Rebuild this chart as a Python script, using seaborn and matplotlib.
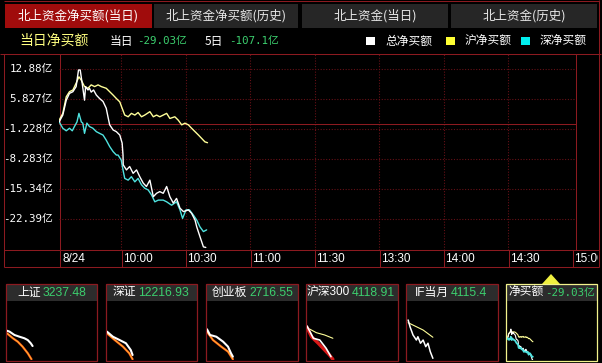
import matplotlib
matplotlib.use("Agg")
import matplotlib.pyplot as plt
import matplotlib.transforms as mtransforms
from matplotlib.patches import Rectangle, Polygon
import seaborn as sns

# ---------------- data ----------------
tab_labels = ["北上资金净买额(当日)", "北上资金净买额(历史)", "北上资金(当日)", "北上资金(历史)"]
time_labels = ["8/24", "10:00", "10:30", "11:00", "11:30", "13:30", "14:00", "14:30", "15:00"]
time_ticks = [0, 30, 60, 90, 120, 150, 180, 210, 240]
y_ticks = [12.88, 5.827, -1.228, -8.283, -15.34, -22.39]
y_tick_labels = ["12.88亿", "5.827亿", "-1.228亿", "-8.283亿", "-15.34亿", "-22.39亿"]
legend_labels = ["总净买额", "沪净买额", "深净买额"]
title_text = "当日净买额"
today_label, today_net = "当日", "-29.03亿"
five_label, five_day_net = "5日", "-107.1亿"

# total net buy (亿) vs minutes since 9:30
total_min = [1, 2.7, 4.3, 5.8, 7.4, 8.9, 10.0, 10.8, 11.7, 12.8, 13.3, 14.4, 15.1, 15.9, 17.0,
             18.3, 19.8, 21.4, 22.9, 23.7, 24.5, 26.1, 27.6, 29.2, 30.3, 30.7, 30.8, 32.3, 33.8,
             35.4, 37.0, 38.5, 40.1, 41.6, 43.2, 44.8, 46.3, 47.8, 49.4, 51.0, 52.5, 54.1, 55.6,
             57.2, 58.8, 61.1, 62.6, 64.2, 65.0, 66.5, 68.1, 69.2]
total_val = [0.5, 2.1, 5.6, 7.2, 7.6, 8.8, 12.7, 12.7, 9.6, 5.6, 8.8, 8.0, 8.4, 7.5, 8.0,
             6.8, 6.0, 5.3, 3.7, 1.7, -0.2, -1.4, -1.8, -2.6, -4.5, -7.3, -9.6, -10.8, -10.0,
             -11.6, -10.8, -12.4, -13.9, -14.7, -13.2, -17.1, -16.3, -15.9, -16.3, -14.7, -17.1, -18.6, -17.5,
             -19.8, -20.6, -20.2, -21.0, -22.6, -24.2, -26.5, -28.9, -29.03]
sh_min = [1, 2.7, 4.3, 5.8, 7.4, 8.9, 10.2, 11.3, 12.8, 14.4, 15.9, 17.5, 19.1, 20.6, 22.9,
          24.5, 26.1, 27.6, 29.2, 30.0, 31.5, 33.1, 34.6, 36.2, 37.7, 39.3, 40.8, 43.2, 44.8,
          46.3, 47.8, 49.4, 51.0, 52.5, 54.8, 56.4, 58.0, 59.5, 61.1, 62.6, 64.2, 65.8, 67.3, 68.8, 70.0]
sh_val = [0.9, 2.5, 6.4, 7.6, 8.0, 9.6, 11.1, 10.3, 8.8, 8.4, 9.2, 8.8, 9.2, 8.8, 8.4,
          7.6, 6.8, 6.0, 5.2, 4.1, 2.1, 1.7, 2.5, 2.1, 2.7, 1.7, 2.1, 2.9, 1.7,
          2.1, 1.7, 2.1, 2.5, 1.3, 1.7, 0.9, -0.2, 0.2, -0.2, -1.0, -1.8, -2.6, -3.4, -4.2, -4.4]
sz_min = [1, 2.7, 4.3, 5.8, 7.1, 8.1, 9.3, 10.2, 11.3, 12.0, 12.8, 13.9, 15.1, 16.7, 18.3,
          19.8, 21.4, 22.9, 24.5, 26.1, 27.6, 28.4, 29.9, 30.7, 31.5, 33.1, 34.6, 36.2, 37.7,
          39.3, 40.8, 42.4, 44.0, 45.5, 47.1, 49.4, 51.0, 53.3, 55.6, 57.2, 58.4, 60.0, 61.6,
          63.4, 65.0, 66.5, 68.1, 69.6]
sz_val = [0.5, -1.0, -1.6, -1.0, -1.6, -0.6, 0.5, 2.5, 0.5, 0.2, -2.2, 0.2, -0.6, -1.0, -1.8,
          -2.2, -2.6, -3.8, -5.3, -6.5, -7.3, -7.3, -8.5, -10.8, -12.8, -13.2, -12.4, -13.6, -12.8,
          -14.3, -15.1, -15.5, -16.7, -18.3, -17.9, -17.9, -18.3, -19.1, -18.3, -20.2, -22.2, -20.2, -20.2,
          -21.4, -22.6, -24.2, -25.3, -24.9]

# bottom mini panels
panel_names = ["上证", "深证", "创业板", "沪深300", "IF当月", "净买额"]
panel_values = ["3237.48", "12216.93", "2716.55", "4118.91", "4115.4", "-29.03亿"]
# mini index charts (% change vs minutes)
m1_w_min = [0, 7, 20, 33, 47, 56, 64, 69]
m1_w_val = [0.02, -0.07, -0.39, -0.55, -0.71, -0.88, -1.19, -1.46]
m1_r_min = [0, 16, 29, 42, 56, 66]
m1_r_val = [-0.23, -0.71, -1.04, -1.52, -2.16, -2.74]
m2_w_min = [0, 16, 34, 51, 64, 69]
m2_w_val = [-0.07, -0.56, -0.88, -1.19, -1.84, -2.33]
m2_r_min = [0, 21, 43, 60, 69]
m2_r_val = [-0.23, -0.88, -1.52, -2.16, -2.74]
m3_w_min = [0, 8, 25, 43, 56, 64, 69]
m3_w_val = [0.16, -0.39, -0.56, -1.04, -1.52, -2.16, -2.49]
m3_r_min = [0, 16, 38, 56, 69]
m3_r_val = [-0.07, -0.88, -1.52, -2.0, -2.74]
m4_r_min = [0, 12, 30, 47, 60, 69]
m4_r_val = [0.35, -0.56, -1.19, -1.84, -2.33, -2.74]
m4_w_min = [0, 17, 34, 51, 64]
m4_w_val = [0.48, -0.71, -0.88, -1.68, -2.49]
m4_y_min = [3, 25, 47, 69]
m4_y_val = [0.26, -0.17, -0.39, -0.71]
m5_w_min = [3, 8, 16, 25, 29, 36, 43, 50, 56, 62, 69]
m5_w_val = [1.06, 0.41, -0.39, -0.88, -0.56, -1.19, -0.88, -1.52, -1.19, -2.0, -2.65]
m5_y_min = [3, 21, 43, 69]
m5_y_val = [0.8, 0.48, 0.09, -0.61]

# ---------------- style ----------------
sns.set_theme(style="dark")
plt.rcParams['font.family'] = ['Liberation Sans', 'Noto Sans CJK SC', 'DejaVu Sans']
MONO = ['DejaVu Sans Mono', 'Noto Sans CJK SC']
CJK = ['Noto Sans CJK SC', 'DejaVu Sans']
RED = '#8c1a20'
GRID = '#641016'
GREEN = '#3ccf6e'
C_WHITE, C_YEL, C_CYAN = '#ffffff', '#ffff99', '#4fe3e0'

W, H = 602, 363
fig = plt.figure(figsize=(W / 100, H / 100), dpi=100, facecolor='black')


def px_axes(x0, y0, x1, y1, z=1):
    a = fig.add_axes([x0 / W, 1 - y1 / H, (x1 - x0) / W, (y1 - y0) / H], zorder=z)
    a.set_facecolor('none')
    a.axis('off')
    return a


ov = px_axes(0, 0, W, H, z=0)
ov.set_xlim(0, W)
ov.set_ylim(H, 0)


def hline(y, x0, x1, c=RED):
    ov.plot([x0, x1], [y, y], color=c, lw=0.75, solid_capstyle='butt')


def vline(x, y0, y1, c=RED):
    ov.plot([x, x], [y0, y1], color=c, lw=0.75, solid_capstyle='butt')


# tabs
tab_boxes = [(5, 152, '#a00c0c'), (154, 298, '#262626'), (302, 448, '#262626'), (451, 597, '#262626')]
for (x0, x1, fc), lab in zip(tab_boxes, tab_labels):
    ov.add_patch(Rectangle((x0, 4), x1 - x0, 24, facecolor=fc, edgecolor='none'))
    ov.text((x0 + x1) / 2, 16, lab, color='white' if fc != '#262626' else '#e6e6e6',
            ha='center', va='center', fontsize=9, family=CJK)

hline(1, 4, 599)
vline(599, 0, 267)
vline(4, 54, 267)
hline(54, 0, 601)
vline(60, 54, 267)
vline(576, 54, 250)
hline(250, 4, 599)
hline(267, 4, 599)

# title row
ov.text(19, 41, title_text, color='#ffff80', fontsize=10, va='center', family=CJK)
ov.text(110, 41, today_label, color='white', fontsize=8.5, va='center', family=CJK)
ov.text(137, 41, today_net, color=GREEN, fontsize=7.8, va='center', family=MONO)
ov.text(205, 41, five_label, color='white', fontsize=8.5, va='center', family=CJK)
ov.text(229, 41, five_day_net, color=GREEN, fontsize=7.8, va='center', family=MONO)

legend_boxes = [(366, '#ffffff'), (446, '#ffff33'), (521, '#00eeee')]
for (lx, lc), lab in zip(legend_boxes, legend_labels):
    ov.add_patch(Rectangle((lx, 37), 9, 8, facecolor=lc, edgecolor='none'))
    ov.text(lx + 19, 41, lab, color='white', fontsize=8.5, va='center', family=CJK)

# ---------------- main chart ----------------
PXM = 2.15   # pixels per minute
X0 = 57      # pixel of 9:30
YZ = 124     # pixel of zero
PXV = 4.252  # pixels per 亿
ax = px_axes(59, 54, 576, 250, z=2)
ax.set_xlim((59 - X0) / PXM, (576 - X0) / PXM)
ax.set_ylim((YZ - 250) / PXV, (YZ - 54) / PXV)
for v in y_ticks:
    ax.axhline(v, color=GRID, lw=0.8, ls=(0, (1, 1.5)))
for t in time_ticks[1:-1]:
    ax.axvline(t, color=GRID, lw=0.8, ls=(0, (1, 1.5)))
ax.axhline(0, color=RED, lw=0.75)

sns.lineplot(x=sh_min, y=sh_val, ax=ax, color=C_YEL, linewidth=1.0, estimator=None, sort=False)
sns.lineplot(x=sz_min, y=sz_val, ax=ax, color=C_CYAN, linewidth=1.0, estimator=None, sort=False)
sns.lineplot(x=total_min, y=total_val, ax=ax, color=C_WHITE, linewidth=1.0, estimator=None, sort=False)
ax.axis('off')

ytr = mtransforms.blended_transform_factory(ov.transData, ax.transData)
for v, lab in zip(y_ticks, y_tick_labels):
    ov.text(53, v, lab, transform=ytr, ha='right', va='center', color='white',
            fontsize=7.8, family=MONO)

# time label row
lab_ax = px_axes(4, 250, 598, 267, z=2)
lab_ax.set_xlim((4 - X0) / PXM, (598 - X0) / PXM)
lab_ax.set_ylim(267, 250)
for i, (t, lab) in enumerate(zip(time_ticks, time_labels)):
    if i > 0:
        lab_ax.plot([t, t], [250, 267], color=RED, lw=0.75)
    off = (62 - X0) / PXM if i == 0 else 1.5 / PXM
    lab_ax.text(t + off, 259, lab, color='white', fontsize=8.5, ha='left', va='center', clip_on=True)

# ---------------- bottom panels ----------------
panel_x = [(6, 97), (106, 197), (206, 298), (306, 398), (406, 498), (506, 597)]
panel_split = [41.5, 137, 248, 351, 450, 545]
for i, ((x0, x1), nm, val, sp) in enumerate(zip(panel_x, panel_names, panel_values, panel_split)):
    ec = '#f2f28c' if i == 5 else RED
    ov.add_patch(Rectangle((x0, 284), x1 - x0, 17, facecolor='#2c2c2c', edgecolor='none'))
    ov.add_patch(Rectangle((x0, 284), x1 - x0, 361 - 284, facecolor='none', edgecolor=ec, lw=0.9))
    ov.text(sp - 1, 292.5, nm, color='white', fontsize=8.5, ha='right', va='center')
    if i == 5:
        ov.text(sp + 0.5, 292.5, val, color=GREEN, fontsize=7.8, ha='left', va='center', family=MONO)
    else:
        ov.text(sp + 1, 292.5, val, color=GREEN, fontsize=8.8, ha='left', va='center')

ov.add_patch(Polygon([(542, 284), (560, 284), (551, 274)], closed=True, facecolor='#f0f040', edgecolor='none'))

mini = []
for (x0, x1) in panel_x:
    m = px_axes(x0 + 1, 302, x1 - 1, 360, z=2)
    m.set_xlim(0, 240)
    m.set_ylim(-2.91 + 1 / 10.33, 2.9 - 1 / 10.33)
    mini.append(m)

ORG = '#ff5a1a'


def mline(a, xs, ys, c, lw):
    sns.lineplot(x=xs, y=ys, ax=a, color=c, linewidth=lw, estimator=None, sort=False)
    a.axis('off')


mline(mini[0], m1_r_min, m1_r_val, ORG, 1.6)
mline(mini[0], m1_r_min, m1_r_val, '#ffcc33', 0.5)
mline(mini[0], m1_w_min, m1_w_val, C_WHITE, 1.5)
mline(mini[1], m2_r_min, m2_r_val, ORG, 1.6)
mline(mini[1], m2_r_min, m2_r_val, '#ffcc33', 0.5)
mline(mini[1], m2_w_min, m2_w_val, C_WHITE, 1.5)
mline(mini[2], m3_r_min, m3_r_val, ORG, 1.6)
mline(mini[2], m3_r_min, m3_r_val, '#ffcc33', 0.5)
mline(mini[2], m3_w_min, m3_w_val, C_WHITE, 1.5)
mline(mini[3], m4_y_min, m4_y_val, C_YEL, 0.8)
mline(mini[3], m4_r_min, m4_r_val, '#d81818', 2.4)
mline(mini[3], m4_w_min, m4_w_val, C_WHITE, 1.2)
mline(mini[4], m5_y_min, m5_y_val, C_YEL, 0.8)
mline(mini[4], m5_w_min, m5_w_val, C_WHITE, 1.1)

m6 = mini[5]
m6.set_ylim((338.5 - 360) / 0.73, (338.5 - 302) / 0.73)
mline(m6, sh_min, sh_val, C_YEL, 0.8)
mline(m6, total_min, total_val, C_WHITE, 0.8)
mline(m6, sz_min, sz_val, C_CYAN, 1.3)

fig.savefig('out.png', dpi=100, facecolor='black')
